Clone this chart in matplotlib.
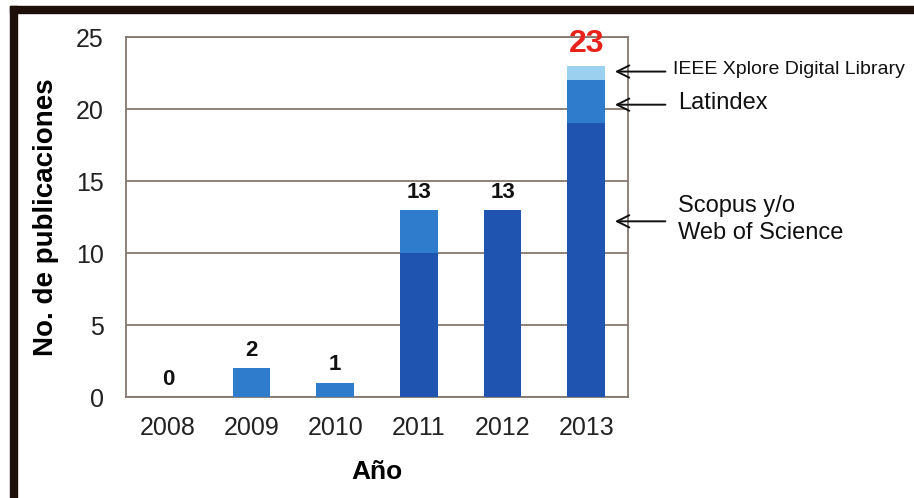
import matplotlib.pyplot as plt
from matplotlib.patches import Rectangle
import numpy as np

plt.rcParams['font.family'] = ['Liberation Sans', 'DejaVu Sans']

years = ['2008', '2009', '2010', '2011', '2012', '2013']
scopus_wos = [0, 0, 0, 10, 13, 19]
latindex = [0, 2, 1, 3, 0, 3]
ieee = [0, 0, 0, 0, 0, 1]
totals = [0, 2, 1, 13, 13, 23]

c_dark = '#1f55b0'
c_mid = '#2f7ccc'
c_light = '#9bd0ee'

fig = plt.figure(figsize=(9.14, 4.98), dpi=100)
ax = fig.add_axes([0.1379, 0.2028, 0.5492, 0.7229])

x = np.arange(len(years))
w = 0.45
b1 = np.array(scopus_wos)
b2 = b1 + np.array(latindex)
ax.bar(x, scopus_wos, w, color=c_dark, zorder=3)
ax.bar(x, latindex, w, bottom=b1, color=c_mid, zorder=3)
ax.bar(x, ieee, w, bottom=b2, color=c_light, zorder=3)

# value labels on top of bars
for i, t in enumerate(totals):
    if i == len(totals) - 1:
        ax.text(i, t + 0.45, str(t), ha='center', va='bottom', color='#e8231c',
                fontsize=23, fontweight='bold')
    else:
        ax.text(i, t + 0.5, str(t), ha='center', va='bottom', color='#111111',
                fontsize=16, fontweight='bold')

ax.set_xlim(-0.5, 5.5)
ax.set_ylim(0, 25)
ax.set_yticks([0, 5, 10, 15, 20, 25])
ax.set_xticks(x)
ax.set_xticklabels(years)
ax.tick_params(length=0, labelsize=18, colors='#222222')
ax.tick_params(axis='x', pad=14)
ax.tick_params(axis='y', pad=16)
ax.grid(axis='y', color='#857770', linewidth=1.3, zorder=0)
for s in ax.spines.values():
    s.set_color('#857770')
    s.set_linewidth(1.3)

ax.set_ylabel('No. de publicaciones', fontsize=20, fontweight='bold', labelpad=12)
ax.set_xlabel('Año', fontsize=19, fontweight='bold', labelpad=14)

# arrows with source names
notes = [('IEEE Xplore Digital Library', 22.6, 14, 6.04),
         ('Latindex', 20.3, 17, 6.1),
         ('Scopus y/o\nWeb of Science', 12.2, 17, 6.1)]
for label, yv, fs, tx in notes:
    ax.annotate('', xy=(5.31, yv), xytext=(5.98, yv),
                arrowprops=dict(arrowstyle='->', color='#111111', lw=1.4,
                                mutation_scale=22),
                annotation_clip=False)
    ax.text(tx, yv + 0.15, label, ha='left', va='center', fontsize=fs,
            color='#111111', linespacing=1.3)

# dark frame on left and top
frame = '#1e1008'
fig.patches.append(Rectangle((10 / 914, 0), 7 / 914, 1 - 6 / 498,
                             transform=fig.transFigure, color=frame, zorder=0))
fig.patches.append(Rectangle((10 / 914, 1 - 13 / 498), 1, 7 / 498,
                             transform=fig.transFigure, color=frame, zorder=0))

fig.savefig('out.png', dpi=100)
